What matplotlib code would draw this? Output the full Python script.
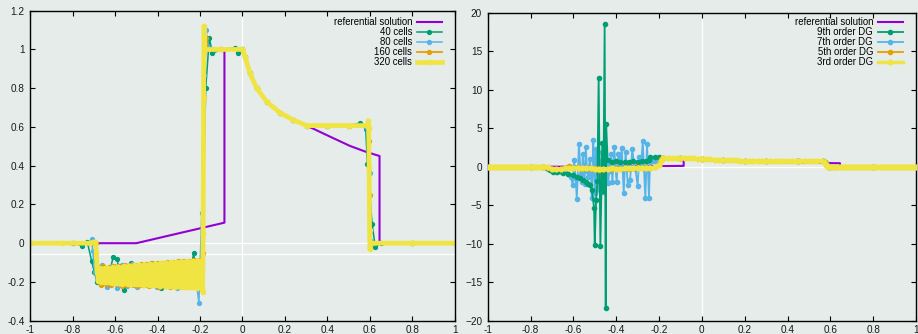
import numpy as np
import matplotlib.pyplot as plt

plt.rcParams['font.family'] = ['Liberation Sans', 'DejaVu Sans']

# reference solution (shared by both panels)
REF_X = [-1.0, -0.5, -0.085, -0.085, 0.0, 0.012, 0.035, 0.067, 0.114, 0.176, 0.239, 0.302,
         0.412, 0.506, 0.58, 0.645, 0.645, 1.0]
REF_Y = [0.0, 0.0, 0.106, 1.0, 1.0, 0.963, 0.877, 0.80, 0.73, 0.674, 0.636, 0.607,
         0.55, 0.502, 0.472, 0.45, 0.0, 0.0]

# rarefaction + plateau
FAN_X = [0.0, 0.012, 0.035, 0.067, 0.114, 0.176, 0.239, 0.302, 0.4, 0.5]
FAN_Y = [1.0, 0.963, 0.877, 0.80, 0.73, 0.674, 0.636, 0.607, 0.607, 0.607]

# ---- left panel: mesh refinement ----
C40_X = [-1.0, -0.8, -0.757, -0.73, -0.71, -0.697, -0.685, -0.66, -0.635, -0.608, -0.59,
         -0.575, -0.557, -0.54, -0.526, -0.505, -0.48, -0.455, -0.43, -0.405, -0.383,
         -0.36, -0.33, -0.305, -0.28, -0.255, -0.23, -0.21, -0.19, -0.173, -0.156,
         -0.142, -0.1, -0.035, -0.02]
C40_Y = [0.0, 0.0, -0.012, 0.005, -0.092, -0.15, -0.2, -0.14, -0.19, -0.07, -0.08,
         -0.19, -0.243, -0.15, -0.1, -0.2, -0.13, -0.21, -0.12, -0.2, -0.23,
         -0.12, -0.1, -0.2, -0.13, -0.21, -0.052, -0.2, -0.06, 0.80, 1.06,
         0.98, 1.0, 1.01, 0.98]
C40_TAIL_X = [0.553, 0.58, 0.588, 0.61, 0.625, 0.65, 0.8, 1.0]
C40_TAIL_Y = [0.62, 0.59, 0.41, 0.1, -0.02, 0.0, 0.0, 0.0]

C80_HEAD_X = [-1.0, -0.8, -0.72, -0.71, -0.705, -0.695]
C80_HEAD_Y = [0.0, 0.0, 0.0, 0.02, -0.04, -0.15]
C80_BAND = [-0.115, -0.225, -0.12, -0.23, -0.11, -0.22, -0.105, -0.228, -0.11, -0.215,
            -0.1, -0.225, -0.105, -0.22, -0.1, -0.23, -0.095, -0.22, -0.09, -0.225]
C80_JUMP_X = [-0.205, -0.192, -0.183, -0.172, -0.16, -0.14]
C80_JUMP_Y = [-0.307, 0.154, 0.868, 1.10, 1.01, 1.0]
C80_TAIL_X = [0.58, 0.59, 0.598, 0.606, 0.62, 0.8, 1.0]
C80_TAIL_Y = [0.6, 0.58, 0.36, 0.01, 0.0, 0.0, 0.0]

C160_HEAD_X = [-1.0, -0.8, -0.7, -0.6875]
C160_HEAD_Y = [0.0, 0.0, 0.0, 0.0]
C160_BAND = [-0.125, -0.215, -0.12, -0.21, -0.122, -0.218, -0.118, -0.212, -0.12, -0.22,
             -0.115, -0.215, -0.112, -0.218, -0.11, -0.22, -0.108, -0.216, -0.105, -0.222,
             -0.104, -0.218, -0.1, -0.224, -0.1, -0.22, -0.098, -0.225, -0.095, -0.222,
             -0.094, -0.226, -0.092, -0.224, -0.09, -0.228, -0.088, -0.225, -0.085, -0.23]
C160_JUMP_X = [-0.1875, -0.18, -0.172, -0.165, -0.1]
C160_JUMP_Y = [-0.05, 0.75, 1.06, 1.0, 1.0]
C160_TAIL_X = [0.59, 0.595, 0.598, 0.601, 0.61, 0.8, 1.0]
C160_TAIL_Y = [0.607, 0.53, 0.25, -0.02, 0.0, 0.0, 0.0]

C320_HEAD_X = [-1.0, -0.85, -0.72, -0.692, -0.688]
C320_HEAD_Y = [0.0, 0.0, 0.0, 0.008, -0.05]
C320_BAND = [-0.135, -0.195, -0.13, -0.2, -0.14, -0.198, -0.13, -0.202, -0.128, -0.2,
             -0.135, -0.205, -0.125, -0.203, -0.13, -0.206, -0.122, -0.204, -0.128, -0.208,
             -0.12, -0.206, -0.125, -0.21, -0.118, -0.208, -0.122, -0.212, -0.115, -0.21,
             -0.12, -0.213, -0.112, -0.212, -0.118, -0.215, -0.11, -0.213, -0.115, -0.216,
             -0.108, -0.215, -0.112, -0.218, -0.105, -0.216, -0.11, -0.22, -0.104, -0.218,
             -0.108, -0.221, -0.1, -0.22, -0.106, -0.223, -0.098, -0.221, -0.104, -0.224,
             -0.097, -0.222, -0.1, -0.225, -0.095, -0.224, -0.099, -0.226, -0.093, -0.225,
             -0.097, -0.228, -0.092, -0.226, -0.095, -0.229, -0.09, -0.228, -0.094, -0.23]
C320_JUMP_X = [-0.1875, -0.185, -0.183, -0.181, -0.178, -0.1]
C320_JUMP_Y = [-0.25, 0.05, 0.75, 1.12, 1.0, 1.0]
C320_TAIL_X = [0.59, 0.592, 0.594, 0.596, 0.598, 0.6, 0.603, 0.8, 1.0]
C320_TAIL_Y = [0.607, 0.632, 0.595, 0.39, 0.067, -0.03, 0.0, 0.0, 0.0]

# ---- right panel: polynomial order ----
DG9_X = [-1.0, -0.8, -0.74, -0.725, -0.71, -0.694, -0.675, -0.65, -0.625, -0.6, -0.585,
         -0.57, -0.554, -0.54, -0.53, -0.522, -0.514, -0.5035, -0.5004, -0.494, -0.488,
         -0.482, -0.474, -0.465, -0.46, -0.454, -0.449, -0.447, -0.44, -0.42, -0.4, -0.38,
         -0.36, -0.34, -0.32, -0.3, -0.28, -0.26, -0.245, -0.24, -0.22, -0.2, -0.18, -0.1,
         0.0, 0.1, 0.2, 0.3, 0.45, 0.565, 0.575, 0.585, 0.595, 0.62, 0.8, 1.0]
DG9_Y = [0.0, 0.0, 0.0, -0.2, -0.45, -0.65, -0.75, -0.8, -0.9, -1.08, -1.3,
         -1.5, -1.73, -2.0, -2.2, -2.4, -3.0, -5.3, -10.2, -4.3, -1.9,
         11.5, -10.3, 3.1, -3.2, 18.5, -18.4, 5.5, 0.9, 0.6, 0.7, 0.6,
         0.65, 0.6, 0.7, 0.65, 0.7, 0.75, 0.9, 1.2, 1.2, 1.2, 1.15, 1.1,
         1.05, 0.9, 0.8, 0.75, 0.75, 0.8, 0.6, 0.2, -0.1, 0.0, 0.0, 0.0]

DG7_X = [-1.0, -0.8, -0.74, -0.72, -0.7, -0.68, -0.66, -0.64, -0.625, -0.612, -0.603,
         -0.597, -0.589, -0.584, -0.574, -0.566, -0.561, -0.556, -0.548, -0.542, -0.536,
         -0.53, -0.524, -0.518, -0.514, -0.507, -0.503, -0.499, -0.496, -0.49, -0.485,
         -0.48, -0.474, -0.468, -0.462, -0.456, -0.45, -0.444, -0.438, -0.432, -0.424,
         -0.418, -0.409, -0.403, -0.398, -0.39, -0.383, -0.374, -0.365, -0.356, -0.346,
         -0.335, -0.325, -0.318, -0.31, -0.3, -0.292, -0.284, -0.276, -0.264, -0.256,
         -0.247, -0.242, -0.235, -0.225, -0.215, -0.205, -0.195, -0.18, -0.1, 0.0, 0.1,
         0.2, 0.3, 0.45, 0.565, 0.578, 0.59, 0.6, 0.8, 1.0]
DG7_Y = [0.0, 0.0, 0.0, -0.3, -0.6, -0.7, -0.7, -0.6, -0.9, -1.3, -2.4,
         0.9, -1.6, -4.2, 3.0, -0.9, -2.0, 1.7, -2.3, 2.5, -0.6,
         -1.3, 1.0, -0.8, -4.1, 3.5, -1.0, -3.4, 2.3, 1.6, -2.9,
         0.8, -3.0, 1.9, -3.3, 1.3, -1.6, 0.4, -2.1, -0.5, 1.65,
         -2.0, 2.5, -0.3, -2.0, 1.7, 0.3, 2.4, -3.4, 1.9, -2.4,
         -1.7, 2.3, 0.65, -0.3, -2.5, 1.2, 0.2, 3.3, -4.1, 2.9,
         -4.1, 0.65, 0.8, 0.7, 0.9, 0.8, 1.0, 1.1, 1.1, 1.05, 0.9,
         0.8, 0.75, 0.75, 0.8, 0.5, 0.05, 0.0, 0.0, 0.0]

DG5_X = [-1.0, -0.8, -0.735, -0.72, -0.7, -0.68, -0.66, -0.64, -0.62, -0.6, -0.58, -0.56,
         -0.54, -0.52, -0.5, -0.48, -0.46, -0.44, -0.42, -0.4, -0.38, -0.36, -0.34, -0.32,
         -0.3, -0.28, -0.26, -0.24, -0.22, -0.2, -0.19, -0.18, -0.1, 0.0, 0.1, 0.2, 0.3,
         0.45, 0.565, 0.575, 0.585, 0.595, 0.61, 0.8, 1.0]
DG5_Y = [0.0, 0.0, 0.0, -0.2, -0.3, -0.35, -0.3, -0.2, 0.05, -0.2, -0.1, -0.3,
         -0.2, -0.35, -0.2, -0.4, -0.3, -0.25, -0.35, -0.2, -0.3, -0.15, -0.3, -0.2,
         -0.1, -0.2, -0.05, -0.15, 0.0, 0.4, 1.0, 1.1, 1.12, 1.05, 0.9, 0.78, 0.72,
         0.72, 0.75, 0.55, 0.2, 0.02, 0.0, 0.0, 0.0]

# 3rd order: nodes every 0.02 through the structure, zero state on both sides
DG3_MID_X = [-0.72, -0.70, -0.68, -0.66, -0.64, -0.62, -0.60, -0.58, -0.56, -0.54,
             -0.52, -0.50, -0.48, -0.46, -0.44, -0.42, -0.40, -0.38, -0.36, -0.34,
             -0.32, -0.30, -0.28, -0.26, -0.24, -0.22, -0.20, -0.19,
             -0.18, -0.16, -0.14, -0.12, -0.10, -0.08, -0.06, -0.04, -0.02, 0.0,
             0.02, 0.04, 0.06, 0.08, 0.10, 0.12, 0.14, 0.16, 0.18, 0.20,
             0.22, 0.24, 0.26, 0.28, 0.30, 0.32, 0.34, 0.36, 0.38, 0.40,
             0.42, 0.44, 0.46, 0.48, 0.50, 0.52, 0.54, 0.56, 0.57, 0.58, 0.59]
DG3_MID_Y = [-0.1, -0.25, -0.3, -0.28, -0.22, -0.2, -0.15, -0.12, -0.15, -0.18,
             -0.22, -0.25, -0.3, -0.3, -0.25, -0.22, -0.25, -0.28, -0.22, -0.18,
             -0.15, -0.15, -0.18, -0.2, -0.15, -0.05, 0.2, 0.7,
             1.08, 1.1, 1.1, 1.11, 1.12, 1.12, 1.1, 1.08, 1.06, 1.05,
             1.0, 0.96, 0.93, 0.9, 0.88, 0.86, 0.84, 0.82, 0.8, 0.78,
             0.77, 0.75, 0.74, 0.73, 0.72, 0.72, 0.72, 0.72, 0.73, 0.73,
             0.73, 0.74, 0.74, 0.74, 0.75, 0.75, 0.75, 0.76, 0.55, 0.2, 0.02]
ZERO_LEFT_X = np.linspace(-1.0, -0.74, 27)
ZERO_RIGHT_X = np.linspace(0.6, 1.0, 41)

BG = '#e5ecea'
PURPLE = '#9400d3'
GREEN = '#009e73'
BLUE = '#56b4e9'
ORANGE = '#e69f00'
YELLOW = '#f0e442'


def series(head_x, head_y, band, band_lo, band_hi, jump_x, jump_y, tail_x, tail_y):
    bx = list(np.linspace(band_lo, band_hi, len(band)))
    x = head_x + bx + jump_x + FAN_X + tail_x
    y = head_y + band + jump_y + FAN_Y + tail_y
    return x, y


def style(ax):
    ax.set_facecolor(BG)
    ax.axvline(0, color='white', lw=1.0, zorder=0)
    ax.axhline(0, color='white', lw=1.0, zorder=0)
    for s in ax.spines.values():
        s.set_linewidth(1.0)
        s.set_color('black')
    ax.tick_params(direction='in', top=True, right=True, length=3.5, width=0.8,
                   labelsize=7.2, labelcolor='#1a1a1a')
    ax.tick_params(axis='y', pad=4)
    ax.tick_params(axis='x', pad=3)
    ax.set_xlim(-1, 1)
    ax.set_xticks(np.arange(-1, 1.01, 0.2))
    ax.set_xticklabels(['-1', '-0.8', '-0.6', '-0.4', '-0.2', '0', '0.2', '0.4', '0.6', '0.8', '1'])


fig = plt.figure(figsize=(9.18, 3.34), dpi=100, facecolor=BG)
ax1 = fig.add_axes([0.0327, 0.0398, 0.4629, 0.9282])
ax2 = fig.add_axes([0.5313, 0.0398, 0.4665, 0.9222])

# left: mesh refinement
style(ax1)
ax1.axhline(-0.055, color='white', lw=1.0, zorder=0)
x40 = C40_X + FAN_X + C40_TAIL_X
y40 = C40_Y + FAN_Y + C40_TAIL_Y
x80, y80 = series(C80_HEAD_X, C80_HEAD_Y, C80_BAND, -0.66, -0.215,
                  C80_JUMP_X, C80_JUMP_Y, C80_TAIL_X, C80_TAIL_Y)
x160, y160 = series(C160_HEAD_X, C160_HEAD_Y, C160_BAND, -0.68, -0.19,
                    C160_JUMP_X, C160_JUMP_Y, C160_TAIL_X, C160_TAIL_Y)
x320, y320 = series(C320_HEAD_X, C320_HEAD_Y, C320_BAND, -0.685, -0.19,
                    C320_JUMP_X, C320_JUMP_Y, C320_TAIL_X, C320_TAIL_Y)

ax1.plot(REF_X, REF_Y, color=PURPLE, lw=1.5, label='referential solution')
ax1.plot(x40, y40, color=GREEN, lw=1.1, marker='o', ms=2.8, label='40 cells')
ax1.plot(x80, y80, color=BLUE, lw=1.1, marker='o', ms=2.8, label='80 cells')
ax1.plot(x160, y160, color=ORANGE, lw=1.3, marker='o', ms=2.8, label='160 cells')
ax1.plot(x320, y320, color=YELLOW, lw=3.4, marker='o', ms=3.0, label='320 cells')
ax1.set_ylim(-0.4, 1.2)
ax1.set_yticks(np.arange(-0.4, 1.21, 0.2))
ax1.set_yticklabels(['-0.4', '-0.2', '0', '0.2', '0.4', '0.6', '0.8', '1', '1.2'])

# right: polynomial order
style(ax2)
dg3_x = list(ZERO_LEFT_X) + DG3_MID_X + list(ZERO_RIGHT_X)
dg3_y = [0.0] * len(ZERO_LEFT_X) + DG3_MID_Y + [0.0] * len(ZERO_RIGHT_X)
ax2.plot(REF_X, REF_Y, color=PURPLE, lw=1.5, label='referential solution')
ax2.plot(DG9_X, DG9_Y, color=GREEN, lw=1.3, marker='o', ms=3.0, label='9th order DG', zorder=3)
ax2.plot(DG7_X, DG7_Y, color=BLUE, lw=1.3, marker='o', ms=3.0, label='7th order DG', zorder=2.5)
ax2.plot(DG5_X, DG5_Y, color=ORANGE, lw=1.3, marker='o', ms=3.0, label='5th order DG', zorder=3.2)
ax2.plot(dg3_x, dg3_y, color=YELLOW, lw=2.4, marker='o', ms=3.4, label='3rd order DG', zorder=3.4)
ax2.set_ylim(-20, 20)
ax2.set_yticks(np.arange(-20, 21, 5))

legend_kw = dict(loc='upper right', frameon=False, markerfirst=False, fontsize=6.9,
                 handlelength=2.6, handletextpad=0.5, labelspacing=0.0,
                 borderpad=0.3, numpoints=1)
ax1.legend(bbox_to_anchor=(0.987, 1.003), **legend_kw)
ax2.legend(bbox_to_anchor=(0.987, 1.01), **legend_kw)

fig.savefig('out.png', dpi=100, facecolor=BG)
